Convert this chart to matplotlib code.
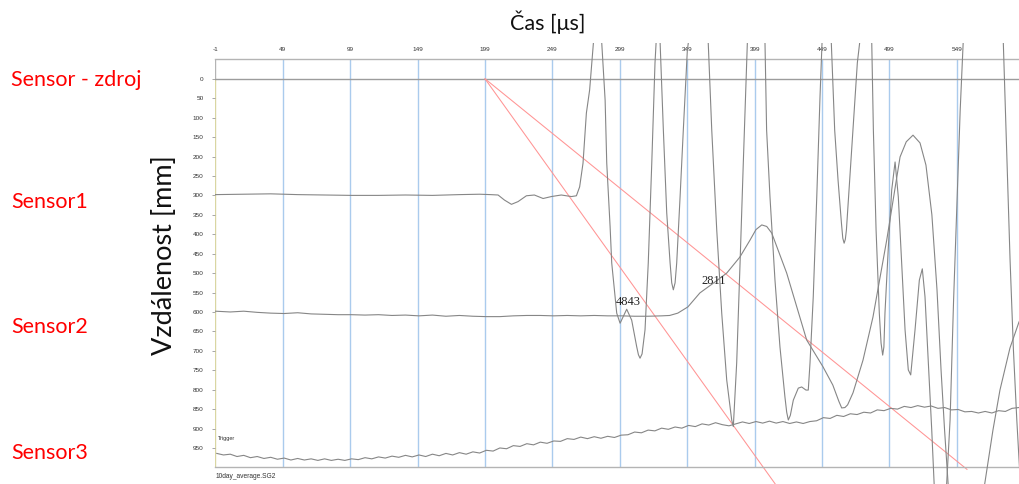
import matplotlib
matplotlib.use("Agg")
import matplotlib.pyplot as plt
from matplotlib.patches import Rectangle

# ---- data (time in µs, distance in mm) ----
X_TICKS = [-1, 49, 99, 149, 199, 249, 299, 349, 399, 449, 499, 549, 599]
Y_TICKS = list(range(0, 1000, 50))

# sensor 1 (near 300 mm) -> big oscillations after the wave arrives
s1_t = [-1, 20, 40, 60, 80, 100, 120, 140, 160, 180, 195, 203,
        208.7, 213.4, 218.6, 223.5, 229.7, 235.6, 242.1, 248.2, 255.6, 263.1, 266.8,
        269.2, 271.7, 274.2, 276.6, 279.4, 282,
        285.6, 288.1, 289.3, 291.8, 293.0, 296.7, 299.2, 304.1, 307.8, 311.5, 312.8, 314.0,
        315.5, 317.7, 320.1, 322.7, 325.1, 325.9, 327.4, 328.9, 331.3, 333.8, 336.3, 337.5,
        338.7, 340.0, 341.2, 343.7, 346.1, 349.1, 349.8, 357, 364.6, 367.2, 370.9, 374.6,
        378.3, 382.0, 383.2, 385.7, 388.2, 390.6, 393.1, 393.6, 400, 406.7, 407.9, 410.4,
        414.1, 417.8, 421.5, 422.8, 424.0, 425.5, 427.7, 431.4, 433.9, 437.1, 438.8, 440.1,
        442.5, 445.1, 447.5, 449.0, 452.5, 455.9, 458.4, 460.9, 463.4, 464.4, 465.4, 466.3,
        467.1, 469.5, 472.0, 475.2, 476.9, 481.4, 485.9, 487.1, 489.1, 491.5, 492.8, 494.0,
        494.9, 495.7, 498.2, 500.7, 503.2, 505.6, 508.1, 510.6, 513.0, 514.8, 518.0, 521.2,
        523.4, 525.4, 527.9, 530.4, 532.1, 536.5, 541.5, 544, 546.6, 549.2, 551.5, 553.7,
        568.5, 583.5, 586, 588.5, 591, 593.5, 596, 600]
s1_y = [298, 297, 296, 298, 299, 300, 300, 299, 300, 298, 297, 298,
        299, 312, 323, 316, 301, 299, 308, 303, 299, 303, 301,
        278, 217, 88, 29, -92, -180,
        -92, 55, 217, 381, 474, 603, 629, 593, 621, 689, 710, 719,
        708, 646, 474, 217, -41, -92, -130, -92, 132, 345, 474, 525,
        543, 525, 474, 304, 132, -74, -92, -300, -92, 132, 389, 603,
        775, 878, 895, 731, 474, 217, -41, -92, -250, -92, 132, 304,
        518, 690, 819, 858, 878, 866, 827, 796, 793, 801, 801, 731,
        561, 304, 47, -92, -130, -92, 132, 261, 371, 410, 423, 413,
        389, 261, 132, -41, -92, -180, -92, 132, 389, 603, 680, 711,
        690, 603, 433, 286, 214, 304, 474, 646, 749, 762, 646, 518,
        489, 561, 731, 904, 1040, 1250, 1040, 878, 570, 312, 81, -92,
        -350, -92, 183, 466, 698, 878, 1032, 1150]

# sensor 2 (near 600 mm)
s2_t = [-1, 10, 20, 30, 40, 50, 60, 70, 80, 90, 100, 110, 120, 130, 140, 150,
        160, 170, 180, 190, 200, 210, 220, 230, 240, 250, 260, 270, 280, 290,
        300, 310, 320, 330, 336, 342, 349.5, 358.4, 369.5, 378.3, 388, 395.6,
        400, 404.3, 408, 411.7, 422.8, 437.6, 449.7, 457, 461.5, 463.6, 466, 468, 472,
        479.4, 486.8, 497, 506.9, 511.5, 516.5, 521.7, 526.1, 530.5, 534.3,
        537.3, 539.9, 542.5, 545.3, 557.2, 569.8, 575.8, 581, 588.4, 595.1, 603.3]
s2_y = [598, 600, 598, 601, 603, 604, 602, 605, 606, 607, 607, 608, 607, 609, 608, 610,
        608, 611, 609, 611, 612, 612, 610, 609, 609, 610, 609, 610, 609, 610,
        610, 611, 611, 610, 609, 603, 587, 551, 523, 500, 459, 415,
        388, 376, 380, 397, 500, 672, 741, 788, 830, 847, 846, 839, 808,
        724, 613, 415, 201, 162, 145, 165, 222, 350, 543,
        749, 903, 1040, 1150, 1300, 1040, 904, 801, 693, 626, 569]

# sensor 3 / trigger (near 950 mm), sampled every 5 µs
s3_t = list(range(0, 600, 5))
s3_y = [964, 968, 966, 972, 969, 975, 972, 977, 974, 979, 976, 981, 977, 981, 978, 982,
        978, 982, 979, 982, 978, 980, 975, 978, 973, 976, 971, 974, 969, 973, 968, 972,
        966, 970, 964, 968, 962, 966, 960, 963, 956, 958, 950, 952, 944, 946, 939, 942,
        935, 938, 932, 933, 926, 928, 922, 926, 921, 925, 920, 923, 917, 916, 909, 911,
        904, 906, 899, 902, 896, 899, 892, 895, 888, 891, 885, 890, 893, 888, 883, 887,
        882, 886, 881, 886, 882, 887, 883, 887, 882, 880, 872, 874, 866, 869, 862, 864,
        858, 860, 852, 854, 848, 850, 843, 846, 841, 845, 842, 848, 846, 852, 851, 857,
        856, 860, 856, 860, 854, 856, 848, 846]

# wave-front lines from the source pulse: velocity in m/s
ORIGIN_T = 199
VELOCITIES = [4843, 2811]
FRONT_END_MM = [1060, 1005]
LABEL_POS = [(305, 574), (369, 520)]

SENSOR_NAMES = ["Sensor - zdroj", "Sensor1", "Sensor2", "Sensor3"]
SENSOR_FIG_Y = [0.835, 0.583, 0.324, 0.064]

TRACE = "#868686"
GRID_BLUE = "#aacbed"
FRONT_RED = "#ff9494"

fig = plt.figure(figsize=(10.19, 4.84), dpi=100)
ax = fig.add_axes([0.2114, 0.0343, 0.8215, 0.843])
ax.set_xlim(-1, 620)
ax.set_ylim(1000, -50)

for s in ("left", "right"):
    ax.spines[s].set_visible(False)
for s in ("top", "bottom"):
    ax.spines[s].set_color("#b4b4b4")
    ax.spines[s].set_linewidth(1.0)

ax.xaxis.tick_top()
ax.set_xticks(X_TICKS)
ax.set_xticklabels([str(v) for v in X_TICKS])
ax.tick_params(axis="x", length=0, pad=5, labelsize=4.6, labelcolor="#333333")
ax.set_yticks(Y_TICKS)
ax.tick_params(axis="y", length=2.5, width=0.6, color="#999999", pad=6,
               labelsize=4.6, labelcolor="#333333")
for lab in ax.get_xticklabels() + ax.get_yticklabels():
    lab.set_fontfamily("Liberation Sans")

# vertical time grid + source level
for t in X_TICKS[1:]:
    ax.plot([t, t], [-50, 1000], color=GRID_BLUE, lw=1.0, zorder=1)
ax.plot([-1, -1], [-50, 0], color="#b4b4b4", lw=1.0, zorder=1)
ax.plot([-1, -1], [0, 1000], color="#d9d6a2", lw=1.0, zorder=1)
ax.axhline(0, color="#9c9c9c", lw=1.0, zorder=1)

# traces may run a little past the frame, as in the recorder's view
clip = Rectangle((-1, -92), 800, 1600, transform=ax.transData)
for tt, yy in ((s1_t, s1_y), (s2_t, s2_y), (s3_t, s3_y)):
    ln, = ax.plot(tt, yy, color=TRACE, lw=0.8, zorder=3)
    ln.set_clip_path(clip)

# wave fronts
for v, yend, (lx, ly) in zip(VELOCITIES, FRONT_END_MM, LABEL_POS):
    slope = v / 1000.0
    ax.plot([ORIGIN_T, ORIGIN_T + yend / slope], [0, yend], color=FRONT_RED,
            lw=0.75, zorder=2, clip_on=False)
    ax.text(lx, ly, str(v), fontsize=9, family="Liberation Serif", color="#222222",
            ha="center", va="center", zorder=4)

ax.text(1, 925, "Trigger", fontsize=4, family="Liberation Sans", color="#333333",
        ha="left", va="center")

fig.text(0.2114, 0.008, "10day_average.SG2", fontsize=4.8, family="Liberation Sans",
         color="#333333", ha="left", va="bottom")

fig.text(0.538, 0.955, "Čas [μs]", fontsize=15.5, family="Lato", color="#111111",
         ha="center", va="center")
fig.text(0.161, 0.473, "Vzdálenost [mm]", fontsize=19.5, family="Lato", color="#111111",
         ha="center", va="center", rotation=90)
for name, fy in zip(SENSOR_NAMES, SENSOR_FIG_Y):
    fig.text(0.011, fy, name, fontsize=15.5, family="Lato", color="#ff0000",
             ha="left", va="center")

fig.savefig("out.png", facecolor="white")
